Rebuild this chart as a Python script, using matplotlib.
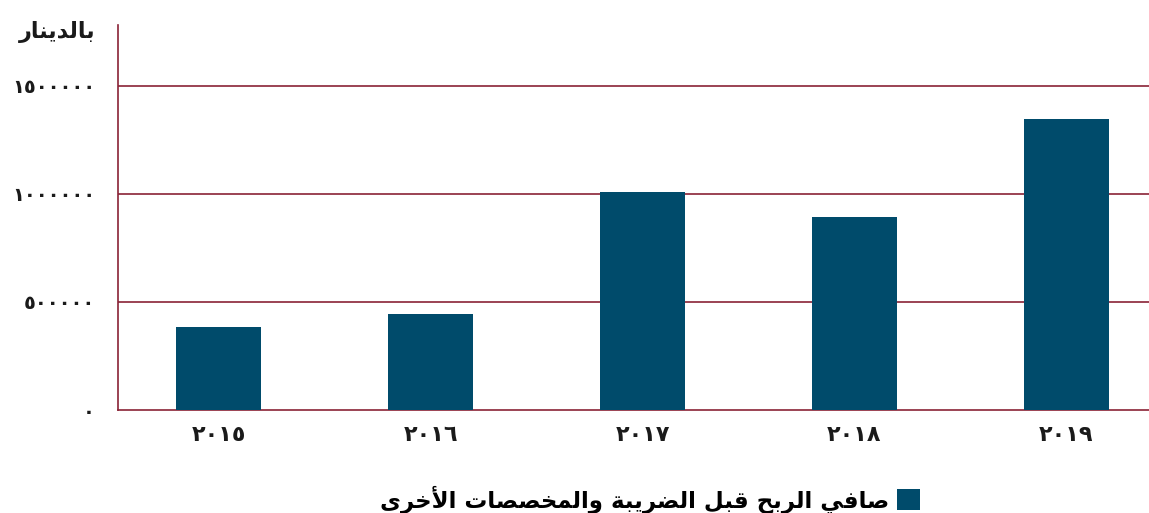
import matplotlib.pyplot as plt

# Data
years = ["٢٠١٥", "٢٠١٦", "٢٠١٧", "٢٠١٨", "٢٠١٩"]
profit = [383000, 443000, 1008000, 892000, 1346000]

y_ticks = [0, 500000, 1000000, 1500000]
y_tick_labels = ["٠", "٥٠٠٠٠٠", "١٠٠٠٠٠٠", "١٥٠٠٠٠٠"]

# Arabic text written as presentation forms in visual (left to right) order,
# since matplotlib does no Arabic shaping.
unit_label = "\uFEAD\uFE8E\uFEE8\uFEF3\uFEAA\uFEDF\uFE8E\uFE91"  # بالدينار
series_name_logical = [
    "\uFEBB\uFE8E\uFED3\uFEF2",  # صافي
    "\uFE8D\uFEDF\uFEAE\uFE91\uFEA2",  # الربح
    "\uFED7\uFE92\uFEDE",  # قبل
    "\uFE8D\uFEDF\uFEC0\uFEAE\uFEF3\uFE92\uFE94",  # الضريبة
    "\uFEED\uFE8D\uFEDF\uFEE4\uFEA8\uFEBC\uFEBC\uFE8E\uFE95",  # والمخصصات
    "\uFE8D\uFEF7\uFEA7\uFEAE\uFEEF",  # الأخرى
]
series_name = " ".join(series_name_logical)[::-1]

BAR_COLOR = "#004B6B"
GRID_COLOR = "#8A2336"

plt.rcParams["font.family"] = ["DejaVu Sans"]

fig = plt.figure(figsize=(11.49, 5.13), dpi=100)
ax = fig.add_axes([118 / 1149, 1 - 410 / 513, 1 - 118 / 1149, 385 / 513])

x = range(len(years))
bars = ax.bar(x, profit, width=0.4, color=BAR_COLOR, zorder=3, label=series_name)

ax.set_xlim(-0.476, 4.39)
ax.set_ylim(0, 1780000)

ax.set_yticks(y_ticks)
ax.set_yticklabels(y_tick_labels, fontsize=14, fontweight="bold")
ax.set_xticks(list(x))
ax.set_xticklabels(years, fontsize=16, fontweight="bold")
ax.tick_params(axis="both", length=0, colors="#1a1a1a")
ax.tick_params(axis="y", pad=16.5)
ax.tick_params(axis="x", pad=11)

for value in y_ticks[1:]:
    ax.axhline(value, color=GRID_COLOR, linewidth=1.2, zorder=1)

for side in ["top", "right"]:
    ax.spines[side].set_visible(False)
for side in ["left", "bottom"]:
    ax.spines[side].set_color(GRID_COLOR)
    ax.spines[side].set_linewidth(1.2)

fig.text(95 / 1149, 1 - 32 / 513, unit_label, ha="right", va="center",
         fontsize=16, fontweight="bold", color="#1a1a1a")

fig.legend(
    handles=[bars],
    labels=[series_name],
    loc="center",
    bbox_to_anchor=(650 / 1149, 1 - 499 / 513),
    frameon=False,
    markerfirst=False,
    handlelength=1.0,
    handleheight=1.0,
    handletextpad=0.3,
    prop={"size": 16.5, "weight": "bold"},
)

fig.savefig("out.png", dpi=100)
plt.close()
